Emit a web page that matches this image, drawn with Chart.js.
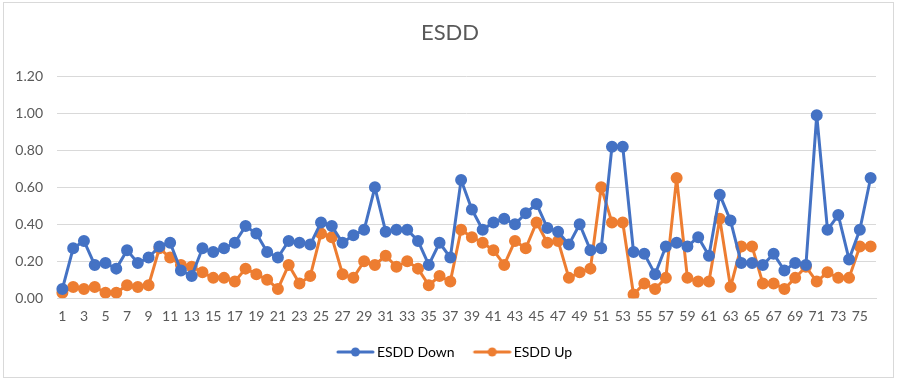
<!DOCTYPE html>
<html>
<head>
<meta charset="utf-8">
<script src="https://cdn.jsdelivr.net/npm/chart.js@4/dist/chart.umd.min.js"></script>
<style>
html,body{margin:0;padding:0;background:#fff;}
#wrap{position:absolute;left:0;top:0;width:900px;height:381px;}
#frame{position:absolute;left:3px;top:2px;width:891px;height:376px;border:1px solid #d9d9d9;box-sizing:border-box;pointer-events:none;}
</style>
</head>
<body>
<div id="wrap"><canvas id="c" width="900" height="381"></canvas></div>
<div id="frame"></div>
<script>
const categories = Array.from({length:76},(_,i)=>String(i+1));
const esddDown = [0.05,0.27,0.31,0.18,0.19,0.16,0.26,0.19,0.22,0.28,0.30,0.15,0.12,0.27,0.25,0.27,0.30,0.39,0.35,0.25,0.22,0.31,0.30,0.29,0.41,0.39,0.30,0.34,0.37,0.60,0.36,0.37,0.37,0.31,0.18,0.30,0.22,0.64,0.48,0.37,0.41,0.43,0.40,0.46,0.51,0.38,0.36,0.29,0.40,0.26,0.27,0.82,0.82,0.25,0.24,0.13,0.28,0.30,0.28,0.33,0.23,0.56,0.42,0.19,0.19,0.18,0.24,0.15,0.19,0.18,0.99,0.37,0.45,0.21,0.37,0.65];
const esddUp = [0.03,0.06,0.05,0.06,0.03,0.03,0.07,0.06,0.07,0.27,0.22,0.18,0.17,0.14,0.11,0.11,0.09,0.16,0.13,0.10,0.05,0.18,0.08,0.12,0.35,0.33,0.13,0.11,0.20,0.18,0.23,0.17,0.20,0.16,0.07,0.12,0.09,0.37,0.33,0.30,0.26,0.18,0.31,0.27,0.41,0.30,0.31,0.11,0.14,0.16,0.60,0.41,0.41,0.02,0.08,0.05,0.11,0.65,0.11,0.09,0.09,0.43,0.06,0.28,0.28,0.08,0.08,0.05,0.11,0.17,0.09,0.14,0.11,0.11,0.28,0.28];
const seriesNames = ['ESDD Down','ESDD Up'];
const blue = '#4472C4', orange = '#ED7D31';

function legendIcon(color){
  const cv = document.createElement('canvas');
  cv.width = 52; cv.height = 12;
  const g = cv.getContext('2d');
  g.strokeStyle = color; g.lineWidth = 3; g.lineCap='round';
  g.beginPath(); g.moveTo(15,6); g.lineTo(50,6); g.stroke();
  g.fillStyle = color; g.beginPath(); g.arc(32.5,6,4.5,0,Math.PI*2); g.fill();
  return cv;
}
const font = "Lato, 'Open Sans', sans-serif";
new Chart(document.getElementById('c'), {
  type: 'line',
  data: {
    labels: categories,
    datasets: [
      {label: seriesNames[0], data: esddDown, borderColor: blue, backgroundColor: blue, borderWidth: 3, borderJoinStyle: 'round', borderCapStyle: 'round', pointRadius: 4.5, pointHoverRadius: 4.5, pointStyle: 'circle', tension: 0},
      {label: seriesNames[1], data: esddUp, borderColor: orange, backgroundColor: orange, borderWidth: 3, borderJoinStyle: 'round', borderCapStyle: 'round', pointRadius: 4.5, pointHoverRadius: 4.5, pointStyle: 'circle', tension: 0}
    ]
  },
  options: {
    responsive: false,
    animation: false,
    layout: {padding: {left: 13, right: 13, top: 12, bottom: 12}},
    plugins: {
      title: {display: true, text: 'ESDD', color: '#595959', font: {family: font, size: 22, weight: 'normal'}, padding: {top: 8, bottom: 30}},
      legend: {
        position: 'bottom',
        labels: {
          color: '#595959', font: {family: font, size: 14},
          usePointStyle: true,
          pointStyleWidth: 42,
          boxWidth: 42, boxHeight: 12, padding: 10,
          generateLabels: (chart) => chart.data.datasets.map((d,i)=>({
            text: d.label, pointStyle: legendIcon(d.borderColor), fillStyle: d.borderColor, strokeStyle: d.borderColor, lineWidth: 0, datasetIndex: i, hidden: false
          }))
        }
      },
      tooltip: {enabled: false}
    },
    scales: {
      x: {
        offset: true,
        grid: {display: false, drawTicks: false},
        border: {display: true, color: '#d9d9d9', width: 1},
        ticks: {color: '#595959', font: {family: font, size: 14}, maxRotation: 0, autoSkip: false, padding: 10,
          callback: function(v, i){ return i % 2 === 0 ? categories[i] : ''; }}
      },
      y: {
        min: 0, max: 1.2,
        grid: {color: '#d9d9d9', drawTicks: false},
        border: {display: false},
        afterFit: s => { s.width = 44; },
        ticks: {stepSize: 0.2, color: '#595959', font: {family: font, size: 14}, padding: 14,
          callback: v => Number(v).toFixed(2)}
      },
      yRight: {
        position: 'right', display: true,
        grid: {display: false, drawTicks: false},
        border: {display: false},
        ticks: {display: false},
        afterFit: s => { s.width = 11; }
      }
    }
  }
});
</script>
</body>
</html>
